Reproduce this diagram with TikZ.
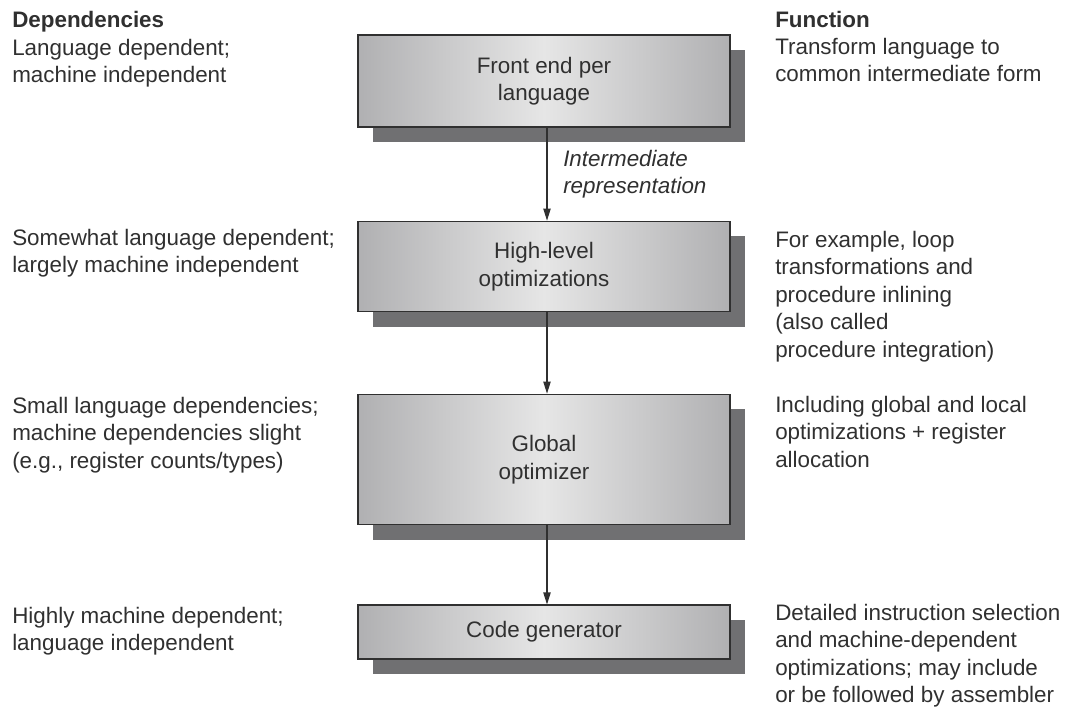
\documentclass[tikz,border=0pt]{standalone}
\usepackage{fontspec}
\setmainfont{Liberation Sans}
\usetikzlibrary{arrows.meta}
\usetikzlibrary{shadows}

\definecolor{boxgray}{RGB}{176,176,178}
\definecolor{boxlight}{RGB}{230,230,230}
\definecolor{shadowgray}{RGB}{112,112,114}
\definecolor{inkgray}{RGB}{48,48,48}
\newcommand\stagefont{\fontsize{16.8}{20.6}\selectfont}

\tikzset{
  stage/.style={draw=inkgray, line width=0.8pt, minimum width=279pt,
    left color=boxgray, right color=boxgray, middle color=boxlight,
    drop shadow={shadow xshift=11.3pt, shadow yshift=-11pt, fill=shadowgray, opacity=1},
    align=center, text=inkgray, font=\stagefont},
  note/.style={anchor=base west, inner sep=0pt, align=left, text=inkgray, font=\stagefont},
  flow/.style={draw=inkgray, line width=0.8pt, -{Triangle[length=9pt,width=5.5pt]}}
}

\begin{document}
\begin{tikzpicture}[x=0.75pt,y=0.75pt,yscale=-1,xscale=1]
\useasboundingbox (0,0) rectangle (1076,719);

%Shape: Rectangle [id:front]
\node [stage, minimum height=69pt] (front) at (544,81) {Front end per\\language};
%Shape: Rectangle [id:high]
\node [stage, minimum height=68pt] (high) at (544,266.5) {High-level\\optimizations};
%Shape: Rectangle [id:global]
\node [stage, minimum height=98pt] (global) at (544,459.5) {Global\\optimizer};
%Shape: Rectangle [id:codegen]
\node [stage, minimum height=40.5pt] (codegen) at (544,632) {Code generator};

%Straight Lines
\draw [flow] ([xshift=2.25pt]front.south) -- ([xshift=2.25pt]high.north);
\draw [flow] ([xshift=2.25pt]high.south) -- ([xshift=2.25pt]global.north);
\draw [flow] ([xshift=2.25pt]global.south) -- ([xshift=2.25pt]codegen.north);

% Text Node (base = last line)
\node [note, font=\stagefont\itshape] (ir) at (563,193.5) {Intermediate\\representation};

% Text Node
\node [note, font=\stagefont\bfseries] (deps) at (12,27) {Dependencies};
% Text Node
\node [note, font=\stagefont\bfseries] (func) at (775,27) {Function};

% Text Node
\node [note] (dep1) at (12,82.5) {Language dependent;\\machine independent};
% Text Node
\node [note] (dep2) at (12,272.5) {Somewhat language dependent;\\largely machine independent};
% Text Node
\node [note] (dep3) at (12,468) {Small language dependencies;\\machine dependencies slight\\(e.g., register counts/types)};
% Text Node
\node [note] (dep4) at (12,650.5) {Highly machine dependent;\\language independent};

% Text Node
\node [note] (fun1) at (775,81.5) {Transform language to\\common intermediate form};
% Text Node
\node [note] (fun2) at (775,357) {For example, loop\\transformations and\\procedure inlining\\(also called\\procedure integration)};
% Text Node
\node [note] (fun3) at (775,467) {Including global and local\\optimizations + register\\allocation};
% Text Node
\node [note] (fun4) at (775,702.5) {Detailed instruction selection\\and machine-dependent\\optimizations; may include\\or be followed by assembler};

\end{tikzpicture}
\end{document}
